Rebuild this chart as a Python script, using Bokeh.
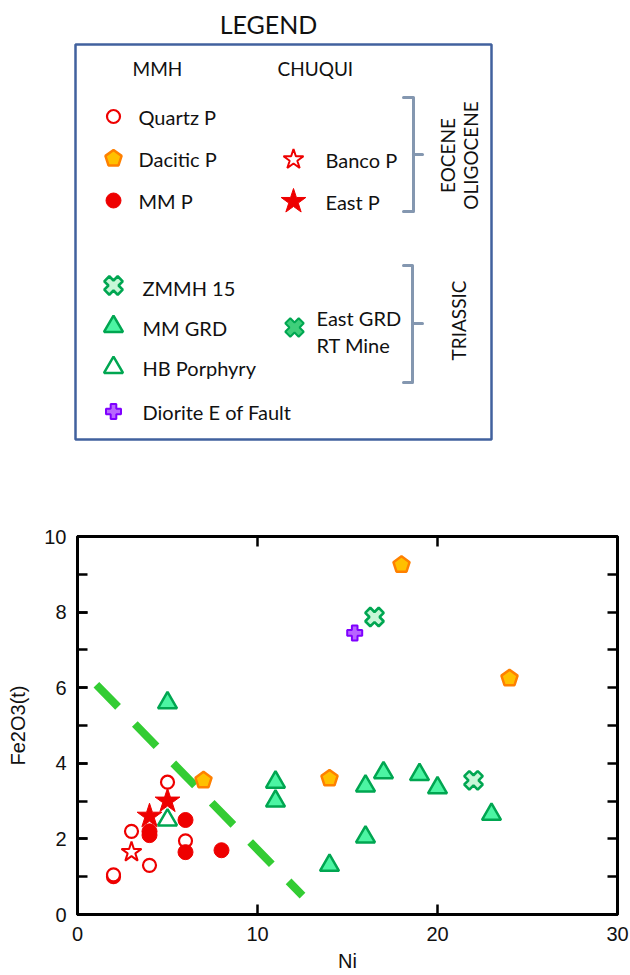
import math
from bokeh.plotting import figure
from bokeh.models import Range1d, LinearAxis, FixedTicker, SingleIntervalTicker
from bokeh.core.properties import value
from bokeh.embed import file_html
from bokeh.resources import INLINE

# ---------------- data (Ni, Fe2O3(t)) ----------------
quartz_x = [2, 2, 3, 4, 5, 6]
quartz_y = [1.0, 1.05, 2.2, 1.3, 3.5, 1.95]
dacitic_x = [7, 14, 18, 24]
dacitic_y = [3.55, 3.6, 9.25, 6.25]
mmp_x = [4, 4, 6, 6, 8]
mmp_y = [2.1, 2.2, 2.5, 1.65, 1.7]
banco_x = [3]
banco_y = [1.65]
eastp_x = [4, 5]
eastp_y = [2.6, 3.0]
zmmh_x = [16.5]
zmmh_y = [7.87]
eastgrd_x = [22]
eastgrd_y = [3.55]
mmgrd_x = [5, 11, 11, 14, 16, 16, 17, 19, 20, 23]
mmgrd_y = [5.6, 3.5, 3.0, 1.3, 3.4, 2.05, 3.75, 3.7, 3.35, 2.65]
hb_x = [5]
hb_y = [2.5]
diorite_x = [15.4]
diorite_y = [7.45]
trend_x = [1.05, 12.5]
trend_y = [6.08, 0.5]

x_ticks = [0, 10, 20, 30]
y_ticks = [0, 2, 4, 6, 8, 10]

# ---------------- styles ----------------
RED = "#ee0000"
GREEN = "#00a651"
ORANGE = "#ff8000"
GOLD = "#ffc000"
PURPLE = "#7f00ff"

S = {
    "quartz": dict(marker="circle", size=13, fill_color="white", line_color=RED, line_width=2.2),
    "mmp": dict(marker="circle", size=15, fill_color=RED, line_color=RED, line_width=1),
    "banco": dict(marker="star", size=21, fill_color="white", line_color=RED, line_width=2),
    "eastp": dict(marker="star", size=26, fill_color=RED, line_color=RED, line_width=1),
    "zmmh": dict(marker="plus", angle=math.pi / 4, size=19, fill_color="#c8f7d8", line_color=GREEN, line_width=2.6),
    "eastgrd": dict(marker="plus", angle=math.pi / 4, size=19, fill_color="#c8f7d8", line_color=GREEN, line_width=2.6),
    "eastgrd_leg": dict(marker="plus", angle=math.pi / 4, size=19, fill_color="#3fcf7a", line_color=GREEN, line_width=2),
    "mmgrd": dict(marker="triangle", size=19, fill_color="#4cf5a3", line_color=GREEN, line_width=2.5),
    "hb": dict(marker="triangle", size=19, fill_color="white", line_color=GREEN, line_width=2.5),
    "diorite": dict(marker="plus", size=15, fill_color="#b866ff", line_color=PURPLE, line_width=2),
}
PENT = dict(n=5, radius=8.5, radius_units="screen", fill_color=GOLD, line_color=ORANGE, line_width=2.5)

# ---------------- legend panel ----------------
lg = figure(width=630, height=480, x_range=Range1d(0, 630), y_range=Range1d(480, 0),
            output_backend="svg", toolbar_location=None, min_border=0,
            x_axis_location=None, y_axis_location=None)
lg.grid.visible = False
lg.outline_line_color = None

LFONT = value("Lato")
TXT = "#111111"
lg.text(x=[268], y=[23], text=["LEGEND"], text_font=LFONT, text_font_size="25px",
        text_align="center", text_baseline="middle", text_color=TXT)
lg.quad(left=[75], right=[491], top=[44], bottom=[439], fill_color=None,
        line_color="#41619e", line_width=2.5)

lg.text(x=[132, 277], y=[68, 68], text=["MMH", "CHUQUI"], text_font=LFONT,
        text_font_size="19px", text_baseline="middle", text_color=TXT)

lab_x = [138, 138, 138, 325, 325, 142, 142, 142, 142, 316, 316]
lab_y = [116, 158, 200, 159, 201, 287, 327, 367, 411, 317, 344]
lab_t = ["Quartz P", "Dacitic P", "MM P", "Banco P", "East P", "ZMMH 15", "MM GRD",
         "HB Porphyry", "Diorite E of Fault", "East GRD", "RT Mine"]
lg.text(x=lab_x, y=lab_y, text=lab_t, text_font=LFONT, text_font_size="20px",
        text_baseline="middle", text_color=TXT)

lg.scatter(x=[113], y=[116], **S["quartz"])
lg.ngon(x=[113], y=[158], angle=0, **PENT)
lg.scatter(x=[113], y=[200], **S["mmp"])
lg.scatter(x=[293], y=[159], **S["banco"])
lg.scatter(x=[293], y=[201], **S["eastp"])
lg.scatter(x=[113], y=[285], **S["zmmh"])
lg.scatter(x=[113], y=[326], **S["mmgrd"])
lg.scatter(x=[113], y=[367], **S["hb"])
lg.scatter(x=[113], y=[411], **S["diorite"])
lg.scatter(x=[294], y=[327], **S["eastgrd_leg"])

BR = "#8497b0"
lg.multi_line(xs=[[403, 413, 413, 403], [413, 422], [403, 412, 412, 403], [412, 422]],
              ys=[[97, 97, 211, 211], [154, 154], [265, 265, 382, 382], [323, 323]],
              line_color=BR, line_width=3, line_join="round", line_cap="round")
lg.text(x=[447, 470, 458], y=[155, 155, 320], text=["EOCENE", "OLIGOCENE", "TRIASSIC"],
        angle=math.pi / 2, text_font=LFONT, text_font_size="19px",
        text_align="center", text_baseline="middle", text_color=TXT)

# ---------------- chart ----------------
p = figure(width=630, height=495, x_range=Range1d(0, 30), y_range=Range1d(0, 10),
           output_backend="svg", toolbar_location=None,
           min_border_left=77, min_border_right=13, min_border_top=56, min_border_bottom=61)
p.grid.visible = False
p.outline_line_color = "black"
p.outline_line_width = 3

AF = "Liberation Sans"
xa = p.xaxis[0]
xa.ticker = FixedTicker(ticks=x_ticks)
ya = p.yaxis[0]
ya.ticker = SingleIntervalTicker(interval=2, num_minor_ticks=2)
xa.axis_label = "Ni"
ya.axis_label = "Fe2O3(t)"
for ax in (xa, ya):
    ax.axis_line_width = 3
    ax.major_tick_in = 10
    ax.major_tick_out = 0
    ax.major_tick_line_width = 2.5
    ax.minor_tick_in = 10
    ax.minor_tick_out = 0
    ax.minor_tick_line_width = 2.5
    ax.major_label_text_font = AF
    ax.major_label_text_font_size = "20px"
    ax.major_label_text_color = TXT
    ax.axis_label_text_font = AF
    ax.axis_label_text_font_size = "20px"
    ax.axis_label_text_font_style = "normal"
    ax.axis_label_text_color = TXT
xa.major_label_standoff = 12
xa.axis_label_standoff = 6
ya.major_label_standoff = 11
ya.axis_label_standoff = 12

top_ax = LinearAxis(ticker=FixedTicker(ticks=[10, 20]), major_label_text_font_size="0px",
                    major_tick_in=10, major_tick_out=0, major_tick_line_width=2.5,
                    minor_tick_out=0, axis_line_width=3, major_label_standoff=0)
right_ax = LinearAxis(ticker=FixedTicker(ticks=list(range(0, 11))), major_label_text_font_size="0px",
                      major_tick_in=10, major_tick_out=0, major_tick_line_width=2.5,
                      minor_tick_out=0, axis_line_width=3, major_label_standoff=0)
p.add_layout(top_ax, "above")
p.add_layout(right_ax, "right")

p.line(trend_x, trend_y, line_color="#33cc33", line_width=8, line_dash="31 24")

p.scatter(quartz_x, quartz_y, **S["quartz"])
p.scatter(mmp_x, mmp_y, **S["mmp"])
p.scatter(banco_x, banco_y, **S["banco"])
p.scatter(eastp_x, eastp_y, **S["eastp"])
p.scatter(hb_x, hb_y, **S["hb"])
p.scatter(mmgrd_x, mmgrd_y, **S["mmgrd"])
p.ngon(dacitic_x, dacitic_y, angle=0, **PENT)
p.scatter(zmmh_x, zmmh_y, **S["zmmh"])
p.scatter(eastgrd_x, eastgrd_y, **S["eastgrd"])
p.scatter(diorite_x, diorite_y, **S["diorite"])

open("out.html", "w").write(file_html([lg, p], INLINE))
